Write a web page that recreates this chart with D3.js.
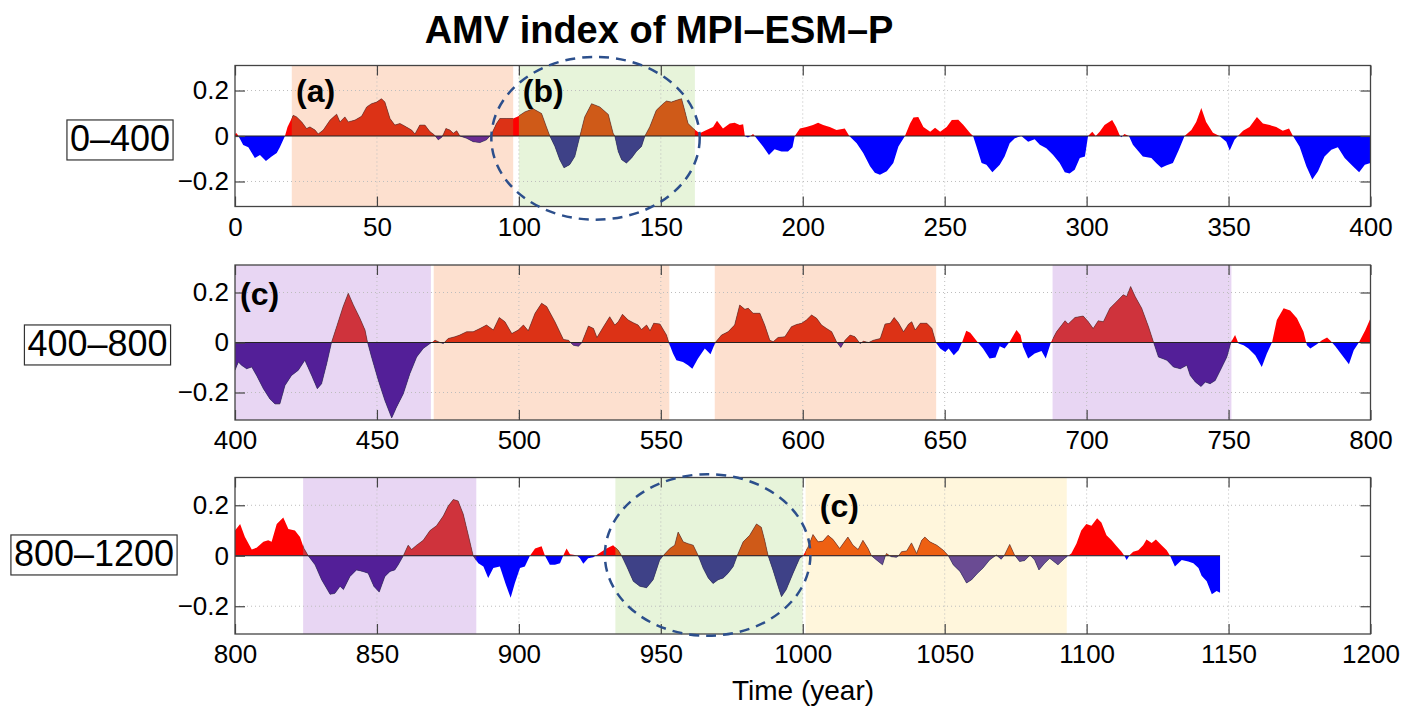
<!DOCTYPE html>
<meta charset="utf-8">
<style>
  body { margin: 0; background: #fff; }
  text { font-family: "Liberation Sans", Arial, Helvetica, sans-serif; }
</style>
<body>
<svg width="1407" height="710"></svg>
<script src="https://d3js.org/d3.v7.min.js"></script>
<script>
// AMV index, [year, value]
var amv0to400 = [[0,0.01],[0.6,0.012],[1.2,0],[2.9,-0.04],[4.7,-0.05],[7,-0.097],[8.8,-0.083],[10.9,-0.11],[12.9,-0.09],[14.7,-0.075],[15.8,-0.05],[17.6,0],[18.5,0.04],[20.5,0.091],[21.7,0.084],[23.5,0.062],[25.2,0.033],[26.4,0.04],[28.2,0.026],[29.3,0.009],[31.1,0.026],[33.5,0.07],[35.8,0.096],[37,0.062],[38.7,0.084],[39.9,0.062],[42.3,0.07],[44.6,0.087],[46.4,0.128],[48.1,0.142],[49.9,0.149],[51.6,0.164],[52.8,0.149],[54.6,0.077],[56.3,0.048],[58.1,0.055],[59.9,0.043],[62.2,0.026],[63.4,0.009],[65.1,0.048],[66.9,0.048],[68.7,0.019],[69.8,0.009],[70.6,0],[71.6,-0.017],[72.8,-0.006],[73.5,0.01],[74.3,0.033],[75.7,0.026],[76.9,0.012],[78.1,0.023],[79.2,0],[81.6,-0.01],[83.9,-0.025],[86.3,-0.029],[88.6,-0.017],[89.8,0],[90.4,0.009],[92.1,0.055],[93.3,0.077],[95.7,0.077],[98,0.077],[99.8,0.087],[102.1,0.106],[105,0.12],[108,0.099],[109.7,0.04],[110.9,0],[112.7,-0.046],[114.4,-0.104],[115.9,-0.14],[117.9,-0.126],[119.7,-0.09],[121.5,0],[123.2,0.084],[125.6,0.142],[128.5,0.128],[131.5,0.095],[133.2,0.012],[133.8,0],[135,-0.068],[136.2,-0.104],[137.9,-0.119],[139.7,-0.097],[141.4,-0.068],[143.2,-0.046],[144.4,0],[146.1,0.04],[148.4,0.113],[150.8,0.142],[152,0.154],[153.7,0.149],[155.5,0.157],[157.3,0.164],[158.4,0.113],[159.6,0.055],[161.4,0.033],[163.7,0.012],[166.1,0.026],[168.4,0.04],[169.8,0.067],[171.9,0.033],[174.3,0.055],[176,0.058],[177.8,0.048],[179,0.052],[179.6,0],[180.7,-0.007],[181.6,0],[182.5,0.009],[183.1,0],[183.7,-0.01],[186,-0.046],[188.1,-0.083],[190.1,-0.058],[192.5,-0.068],[194.8,-0.068],[196.4,-0.049],[197.2,0],[199,0.033],[201.3,0.04],[203.6,0.048],[205.4,0.058],[207.2,0.048],[209.5,0.04],[211.9,0.026],[214.8,0.033],[216.4,0],[219,-0.032],[221.3,-0.075],[223.7,-0.133],[225.4,-0.162],[227.2,-0.17],[229.6,-0.155],[231.9,-0.119],[233.7,-0.046],[236,0],[237.8,0.055],[239,0.081],[240.7,0.084],[242.5,0.04],[244.9,0.019],[246.6,0.036],[248.4,0.019],[250.7,0.04],[252.5,0.07],[254.8,0.072],[256.6,0.048],[259,0.012],[260,0],[261.2,-0.046],[263,-0.119],[264.7,-0.126],[266.8,-0.159],[269.4,-0.126],[271.1,-0.09],[272.9,-0.032],[274.7,-0.01],[277,0],[279.4,-0.025],[281.7,-0.014],[283.5,-0.039],[285.8,-0.054],[288.2,-0.083],[290.5,-0.119],[292.3,-0.159],[294,-0.165],[295.8,-0.148],[297.6,-0.097],[299.4,-0.09],[300.5,0],[302,0.019],[303.2,0],[304.6,0.019],[306.3,0.048],[309,0.07],[310.4,0.04],[311.6,0.004],[312.2,-0.006],[313.3,0.009],[314.9,0],[316.3,-0.039],[319.8,-0.09],[322.8,-0.097],[324.5,-0.119],[326.3,-0.14],[328,-0.13],[330.4,-0.119],[332.5,-0.061],[334.5,0],[336.9,0.026],[338.6,0.062],[340.4,0.123],[342.1,0.062],[344.5,0.014],[346.8,0],[349.2,-0.025],[350.4,-0.064],[352.1,-0.017],[353.3,0],[355.1,0.023],[357.4,0.04],[360,0.084],[362.1,0.055],[364.5,0.048],[366.8,0.04],[369.1,0.023],[371.3,0.033],[372.7,0],[375,-0.046],[377.4,-0.133],[379.5,-0.191],[381.5,-0.155],[383.8,-0.09],[386.2,-0.061],[388.5,-0.049],[390.9,-0.097],[393.8,-0.133],[396,-0.159],[398,-0.126],[400,-0.119]];

var amv400to800 = [[400,-0.111],[401.2,-0.078],[402.3,-0.091],[404.1,-0.105],[405.9,-0.098],[407.6,-0.132],[410,-0.185],[412.3,-0.226],[414.1,-0.246],[415.8,-0.246],[417.6,-0.172],[419.9,-0.132],[422.3,-0.111],[424.6,-0.071],[427,-0.132],[429,-0.185],[430.5,-0.165],[432.3,-0.085],[434,0],[435.8,0.063],[438.1,0.144],[439.9,0.197],[441.7,0.15],[444,0.097],[445.8,0.05],[446.7,0],[448.1,-0.058],[450.5,-0.152],[452.8,-0.232],[455.2,-0.302],[456.9,-0.259],[459.3,-0.205],[461.6,-0.125],[464,-0.058],[466.3,-0.024],[468.7,-0.004],[470.5,0.009],[472.2,0],[473.4,-0.004],[475.1,0.016],[477.5,0.023],[479.2,0.03],[481.6,0.043],[483.9,0.043],[486.3,0.056],[488.6,0.07],[491,0.05],[493.1,0.1],[495.1,0.083],[497.5,0.036],[499.8,0.05],[501.6,0.07],[503.3,0.047],[505.7,0.117],[508,0.157],[509.8,0.144],[512.7,0.083],[515.7,0.012],[517.5,0.009],[518.2,0],[519.2,-0.011],[521,-0.015],[522.2,0],[524.5,0.066],[526.3,0.056],[527.5,0.02],[529.8,0.063],[532,0.103],[533.8,0.07],[535,0.083],[536.5,0.113],[538.5,0.09],[540.3,0.079],[542,0.07],[543.2,0.052],[545,0.07],[546.2,0.047],[547.5,0.077],[549.7,0.074],[552,0.03],[552.8,0],[554.3,-0.044],[555.5,-0.071],[557.8,-0.078],[559.6,-0.091],[561.1,-0.105],[563.1,-0.064],[565.5,-0.024],[567.5,-0.047],[569.2,0],[571.4,0.03],[573.7,0.043],[576,0.07],[577.8,0.15],[579.6,0.133],[580.8,0.137],[582.5,0.117],[584.9,0.117],[586.6,0.07],[588.4,0.009],[589.6,0.003],[591.3,0.02],[593.7,0.023],[596,0.063],[597.8,0.072],[599.6,0.077],[601.3,0.09],[603.1,0.11],[604.9,0.097],[606.6,0.07],[608.4,0.056],[610.2,0.043],[611.9,0.003],[613.4,-0.02],[614.9,0.009],[616.7,0.03],[618.4,0.023],[620.2,-0.004],[621.4,0.005],[623.2,0],[624.9,0.009],[627.3,0.016],[629,0.074],[630.8,0.077],[632.2,0.1],[633.7,0.079],[635.5,0.043],[637.3,0.074],[638.4,0.083],[639.6,0.05],[641.4,0.077],[643.7,0.077],[645.5,0.056],[646.9,0],[648.4,-0.024],[650.2,-0.038],[651.4,-0.024],[653.2,-0.051],[654.9,-0.031],[656.1,0],[657.6,0.047],[659,0.039],[660.6,0.016],[661.7,0],[663.5,-0.024],[665.8,-0.064],[667.9,-0.06],[669.4,-0.015],[671.1,-0.024],[672.9,0.003],[675.3,0.05],[676.7,0.03],[677.6,-0.017],[679.4,-0.064],[681.7,-0.044],[684.1,-0.034],[685.6,-0.064],[687.4,0],[689.4,0.043],[692.4,0.087],[693.5,0.074],[695.9,0.1],[698.8,0.106],[700.6,0.083],[702.3,0.056],[704.1,0.087],[705.9,0.083],[708.2,0.137],[710.6,0.164],[712.9,0.191],[714.1,0.184],[715.5,0.224],[717.1,0.184],[719.4,0.137],[721.8,0.063],[723.6,0],[725.3,-0.058],[728.3,-0.071],[730.6,-0.098],[733,-0.105],[735.3,-0.091],[736.5,-0.132],[738.3,-0.158],[740.3,-0.176],[741.8,-0.158],[743.5,-0.165],[745.3,-0.152],[747.1,-0.111],[749.4,-0.058],[750.8,0],[752.3,0.03],[753.5,-0.004],[755.3,-0.011],[757,-0.024],[759.4,-0.051],[761.7,-0.098],[763.5,-0.044],[765.3,0],[767,0.09],[769.4,0.137],[771.7,0.128],[774.1,0.097],[776.4,0.043],[777.6,-0.011],[778.8,-0.024],[781.1,-0.007],[782.9,0.009],[784.7,0.02],[785.9,0.007],[787.6,-0.015],[790,-0.051],[792.4,-0.087],[794.1,-0.031],[795.9,0],[798.2,0.05],[800,0.097]];

var amv800to1200 = [[800,0.1],[801.8,0.126],[803.5,0.074],[805.9,0.025],[807.6,0.032],[810,0.055],[811.7,0.061],[812.9,0.055],[814.7,0.126],[817,0.152],[818.8,0.106],[821.1,0.1],[822.9,0.074],[824.3,0.029],[825.8,0],[828.2,-0.036],[830.5,-0.095],[833.5,-0.153],[835.2,-0.149],[837,-0.121],[838.2,-0.134],[840.5,-0.082],[842.8,-0.056],[845,-0.062],[846.9,-0.069],[848.9,-0.121],[850.8,-0.144],[852.8,-0.082],[854.6,-0.062],[856.3,-0.056],[857.5,-0.036],[859.3,0],[861,0.042],[862.2,0.025],[864,0.042],[866.3,0.061],[868.7,0.1],[871,0.119],[873.4,0.158],[875.1,0.197],[876.9,0.223],[878.6,0.217],[880.4,0.165],[882.2,0.081],[883.9,0],[885.7,-0.03],[887.5,-0.043],[889.2,-0.088],[891,-0.049],[893.3,-0.043],[895.4,-0.114],[897.1,-0.166],[898.6,-0.108],[900.4,-0.049],[902.1,-0.043],[903.9,0],[905.7,0.029],[908,0.038],[909.2,0],[910.9,-0.036],[912.7,-0.036],[914.5,-0.03],[915.6,0],[916.8,0.029],[918,0.006],[919.7,0.003],[920.5,0],[921.5,-0.01],[922.7,-0.032],[924.4,-0.01],[926.2,-0.006],[927.4,0.003],[929.1,0.016],[930.9,0.029],[933.2,0.042],[935,0.022],[936.2,0],[938,-0.043],[940.3,-0.101],[942.6,-0.121],[945,-0.127],[947.3,-0.095],[949.6,-0.017],[950.8,0],[953.2,0.029],[954.9,0.042],[956.1,0.094],[957.9,0.055],[959.6,0.048],[961.4,0.042],[963.2,0],[964.9,-0.049],[966.7,-0.088],[968.4,-0.11],[970.2,-0.095],[972,-0.088],[973.7,-0.069],[975.5,-0.043],[976.9,0],[979,0.055],[981.3,0.081],[983.7,0.126],[985.4,0.113],[986.6,0.061],[987.8,0],[989.5,-0.056],[991.3,-0.121],[992.5,-0.162],[994.2,-0.134],[996.6,-0.069],[998.9,-0.01],[1000.1,0],[1001.9,0.035],[1003.6,0.084],[1005.4,0.055],[1007.1,0.058],[1008.9,0.081],[1010.7,0.064],[1013,0.029],[1015.9,0.074],[1017.7,0.042],[1019.5,0.025],[1021.2,0.061],[1023,0.029],[1024.2,0],[1026,-0.017],[1028.1,-0.036],[1029.1,0],[1029.5,0.009],[1030.6,0],[1031.3,-0.004],[1033,-0.006],[1033.8,0],[1034.8,0.016],[1036.6,0.019],[1038.3,0.051],[1040.1,0.009],[1041.9,0.061],[1043,0.074],[1044.8,0.055],[1047.2,0.042],[1049.5,0.022],[1051.3,0],[1053,-0.036],[1055.4,-0.062],[1057.7,-0.108],[1059.5,-0.095],[1061.5,-0.07],[1063.5,-0.049],[1065.8,-0.017],[1068.2,0.003],[1069.9,-0.014],[1071.1,0.003],[1072.9,0.045],[1074.6,0.003],[1076.4,-0.023],[1078.2,-0.019],[1080.1,0.003],[1081.7,-0.017],[1083.2,-0.056],[1085.2,-0.03],[1087,-0.01],[1089.9,-0.036],[1092.3,-0.01],[1094.6,0.009],[1096.4,0.048],[1098.1,0.1],[1099.9,0.126],[1101.7,0.119],[1103.7,0.149],[1105.2,0.132],[1107,0.081],[1108.8,0.061],[1110.5,0.039],[1112.3,0.016],[1113.3,0],[1114.1,-0.017],[1115.2,0.003],[1116.4,0.016],[1118.2,0.022],[1119.9,0.042],[1121.1,0.064],[1122.9,0.051],[1124.4,0.064],[1126.4,0.042],[1128.2,0.022],[1129.4,0],[1131.1,-0.043],[1133.5,-0.017],[1135.8,-0.023],[1137.6,-0.03],[1139.4,-0.049],[1140.5,-0.079],[1142.3,-0.101],[1144.1,-0.153],[1145.8,-0.14],[1147,-0.147]];

var series = [amv0to400, amv400to800, amv800to1200];
var yearRanges = [[0, 400], [400, 800], [800, 1200]];
var rangeLabels = ["0\u2013400", "400\u2013800", "800\u20131200"];
var yTicks = [-0.2, 0, 0.2];

// highlighted periods per strip: [from, to, kind]
var periods = [
  [[20, 98, "peach"], [100, 162, "green"]],
  [[400, 469, "lilac"], [470, 553, "peach"], [569, 647, "peach"], [688, 751, "lilac"]],
  [[824, 885, "lilac"], [934, 1000, "green"], [1001, 1093, "cream"]]
];

var kinds = {
  peach: { bg: "#fde0cf", up: "#dc3216", dn: "#6b2c92" },
  green: { bg: "#e7f4da", up: "#cf5a18", dn: "#3e4187" },
  lilac: { bg: "#e8d6f3", up: "#cf333c", dn: "#531f98" },
  cream: { bg: "#fff6dc", up: "#ee6012", dn: "#6a4b93" }
};

// layout of the three strips
var boxes = [
  { top: 65.5, h: 141, lab: [120, 138] },
  { top: 265, h: 155, lab: [97.5, 343] },
  { top: 477.5, h: 156.5, lab: [94, 553] }
];
var left = 235, W = 1135.5;

// annotations: strip, year, value, text
var tags = [[0, 21.5, 0.15, "(a)"], [0, 101.4, 0.15, "(b)"], [1, 401.8, 0.15, "(c)"], [2, 1006, 0.153, "(c)"]];
// dashed ellipses: strip, centre year, centre value, radius in years, radius in index units
var rings = [[0, 127, -0.01, 36.7, 0.358], [2, 966.5, 0.003, 36.2, 0.32]];

var svg = d3.select("svg");
var defs = svg.append("defs");

svg.append("text")
  .attr("x", 659).attr("y", 43)
  .attr("text-anchor", "middle")
  .style("font-size", "38px").style("font-weight", "bold")
  .text("AMV index of MPI\u2013ESM\u2013P");

var scales = [];

series.forEach(function(data, i) {
  var b = boxes[i];
  var x = d3.scaleLinear().domain(yearRanges[i]).range([0, W]);
  var y = d3.scaleLinear().domain([-0.31, 0.31]).range([b.h, 0]);
  scales.push({ x: x, y: y });
  var y0 = y(0);

  var g = svg.append("g").attr("transform", "translate(" + left + "," + b.top + ")");

  function clip(id, rects) {
    var c = defs.append("clipPath").attr("id", id);
    rects.forEach(function(r) {
      c.append("rect").attr("x", r[0]).attr("y", r[1]).attr("width", r[2]).attr("height", r[3]);
    });
    return "url(#" + id + ")";
  }

  var plotClip = clip("plot" + i, [[0, 0, W, b.h]]);
  var inner = g.append("g").attr("clip-path", plotClip);

  // shaded periods
  inner.selectAll(".period").data(periods[i]).enter().append("rect")
    .attr("x", function(d) { return x(d[0]); })
    .attr("width", function(d) { return x(d[1]) - x(d[0]); })
    .attr("y", 0).attr("height", b.h)
    .attr("fill", function(d) { return kinds[d[2]].bg; });

  // dotted grid
  var xt = d3.range(yearRanges[i][0] + 50, yearRanges[i][1], 50);
  inner.selectAll(".gx").data(xt).enter().append("line")
    .attr("x1", function(d) { return x(d); }).attr("x2", function(d) { return x(d); })
    .attr("y1", 0).attr("y2", b.h)
    .attr("stroke", "#bdbdbd").attr("stroke-dasharray", "1,3");
  inner.selectAll(".gy").data([-0.2, 0.2]).enter().append("line")
    .attr("x1", 0).attr("x2", W)
    .attr("y1", function(d) { return y(d); }).attr("y2", function(d) { return y(d); })
    .attr("stroke", "#bdbdbd").attr("stroke-dasharray", "1,3");

  var area = d3.area()
    .x(function(d) { return x(d[0]); })
    .y0(y0)
    .y1(function(d) { return y(d[1]); });

  inner.append("path").attr("d", area(data)).attr("fill", "#ff0000")
    .attr("clip-path", clip("up" + i, [[0, 0, W, y0]]));
  inner.append("path").attr("d", area(data)).attr("fill", "#0000ff")
    .attr("clip-path", clip("dn" + i, [[0, y0, W, b.h - y0]]));

  periods[i].forEach(function(p, j) {
    var x1 = x(p[0]), wd = x(p[1]) - x(p[0]);
    inner.append("path").attr("d", area(data)).attr("fill", kinds[p[2]].up)
      .attr("clip-path", clip("pu" + i + "_" + j, [[x1, 0, wd, y0]]));
    inner.append("path").attr("d", area(data)).attr("fill", kinds[p[2]].dn)
      .attr("clip-path", clip("pd" + i + "_" + j, [[x1, y0, wd, b.h - y0]]));
  });

  // thin outline of the curve inside the shaded periods
  var line = d3.line().x(function(d) { return x(d[0]); }).y(function(d) { return y(d[1]); });
  inner.append("path").attr("d", line(data))
    .attr("fill", "none").attr("stroke", "#3a3a3a").attr("stroke-width", 0.8).attr("stroke-opacity", 0.7)
    .attr("clip-path", clip("ol" + i, periods[i].map(function(p) {
      return [x(p[0]), 0, x(p[1]) - x(p[0]), b.h];
    })));

  // zero line
  inner.append("line")
    .attr("x1", x(data[0][0])).attr("x2", x(data[data.length - 1][0]))
    .attr("y1", y0).attr("y2", y0)
    .attr("stroke", "#222").attr("stroke-width", 1.2);

  // axes (MATLAB style: ticks pointing inward on all four sides)
  var allX = d3.range(yearRanges[i][0], yearRanges[i][1] + 1, 50);
  var fmtY = function(d) { return d === 0 ? "0" : d3.format(".1f")(d); };

  g.append("g").attr("transform", "translate(0," + b.h + ")")
    .call(d3.axisBottom(x).tickValues(allX).tickFormat(d3.format("d")).tickSize(-10).tickPadding(11));
  g.append("g").call(d3.axisTop(x).tickValues(allX).tickFormat("").tickSize(-10));
  g.append("g")
    .call(d3.axisLeft(y).tickValues(yTicks).tickFormat(fmtY).tickSize(-10).tickPadding(6));
  g.append("g").attr("transform", "translate(" + W + ",0)")
    .call(d3.axisRight(y).tickValues(yTicks).tickFormat("").tickSize(-10));

  g.selectAll(".domain").remove();
  g.selectAll(".tick line").attr("stroke", "#444").attr("stroke-width", 1.2);
  g.selectAll(".tick text").attr("fill", "#000")
    .style("font-size", "26px").style("font-family", "'Liberation Sans', Arial, sans-serif");

  g.append("rect").attr("width", W).attr("height", b.h)
    .attr("fill", "none").attr("stroke", "#444").attr("stroke-width", 1.3);

  // strip label in a box
  var lt = svg.append("text")
    .attr("x", b.lab[0]).attr("y", b.lab[1]).attr("dy", "0.36em")
    .attr("text-anchor", "middle")
    .style("font-size", "36px")
    .text(rangeLabels[i]);
  var bb = lt.node().getBBox();
  svg.append("rect")
    .attr("x", bb.x - 3).attr("y", bb.y + 2).attr("width", bb.width + 6).attr("height", bb.height - 1)
    .attr("fill", "none").attr("stroke", "#333").attr("stroke-width", 1.2);
});

// panel letters
tags.forEach(function(t) {
  var s = scales[t[0]];
  svg.append("text")
    .attr("x", left + s.x(t[1])).attr("y", boxes[t[0]].top + s.y(t[2]))
    .style("font-size", "32px").style("font-weight", "bold")
    .text(t[3]);
});

// dashed ellipses
rings.forEach(function(r) {
  var s = scales[r[0]];
  svg.append("ellipse")
    .attr("cx", left + s.x(r[1])).attr("cy", boxes[r[0]].top + s.y(r[2]))
    .attr("rx", s.x(r[1] + r[3]) - s.x(r[1]))
    .attr("ry", s.y(0) - s.y(r[4]))
    .attr("fill", "none").attr("stroke", "#2c4f8c").attr("stroke-width", 2.5)
    .attr("stroke-dasharray", "10,7");
});

svg.append("text")
  .attr("x", 803).attr("y", 700)
  .attr("text-anchor", "middle")
  .style("font-size", "28px")
  .text("Time (year)");
</script>
</body>
